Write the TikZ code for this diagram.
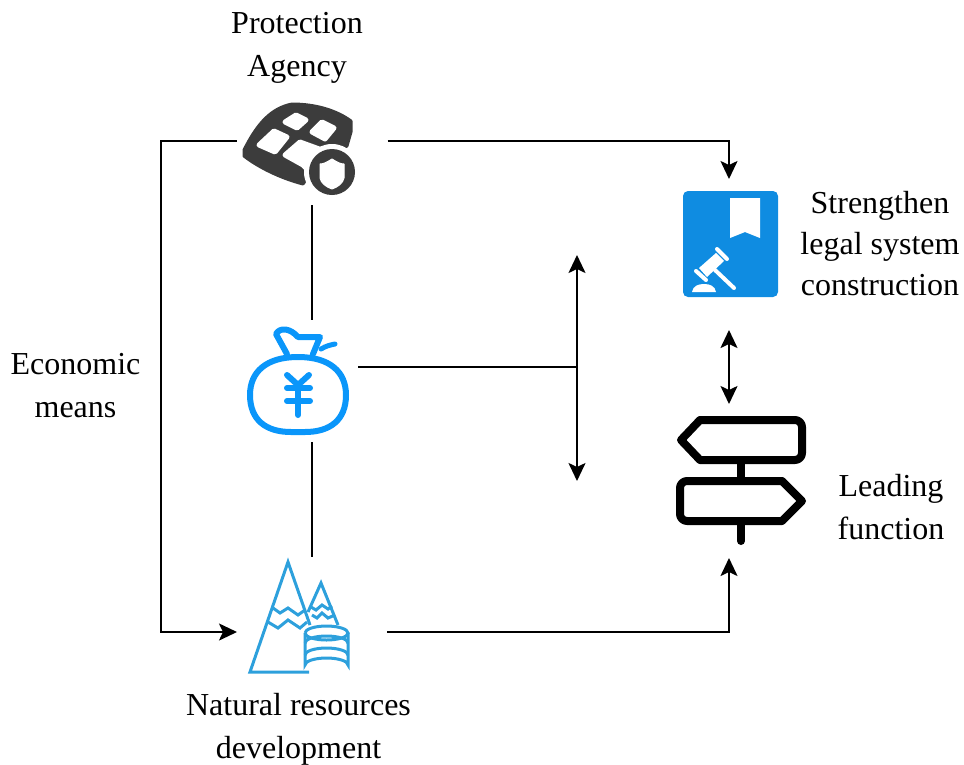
\documentclass[tikz,border=0pt]{standalone}
\usepackage{fontspec}
\setmainfont{Liberation Serif}
\usetikzlibrary{arrows.meta}
\definecolor{icondark}{RGB}{60,60,60}
\definecolor{bagblue}{RGB}{10,150,250}
\definecolor{mtblue}{RGB}{45,160,220}
\definecolor{lawblue}{RGB}{15,140,225}
\tikzset{
  conn/.style={line width=2pt,-{Stealth[length=18pt,width=17pt,inset=4pt]}},
  link/.style={line width=2pt},
  both/.style={line width=2pt,{Stealth[length=18pt,width=17pt,inset=4pt]}-{Stealth[length=18pt,width=17pt,inset=4pt]}},
  port/.style={inner sep=0pt,outer sep=0pt,draw=none},
  lbl/.style={align=center,inner sep=0pt,font=\fontsize{32}{43}\selectfont},
  bag/.style={draw=bagblue,line width=6pt,line cap=round,line join=round},
  mt/.style={draw=mtblue,line width=3pt,line join=miter},
  sign/.style={draw=black,line width=8pt,line join=round,line cap=round},
}
\begin{document}
\begin{tikzpicture}[x=1pt,y=-1pt]
\useasboundingbox (0,0) rectangle (964,764);

% --- protection agency icon
\fill[icondark,draw=icondark,line width=3pt,line join=round]
  (244,150) .. controls (258,122) and (272,108) .. (292,104) .. controls (315,104) and (336,110) .. (351,121)
  -- (351,132) -- (347,146) -- (320,160) -- (303,184) .. controls (280,178) and (258,167) .. (244,156) -- cycle;
\fill[white,draw=white,line width=5pt,line join=round] (296,115) -- (306,120) -- (297,128) -- (285,122) -- cycle;
\fill[white,draw=white,line width=5pt,line join=round] (322,122) -- (334,128) -- (325,139) -- (312,132) -- cycle;
\fill[white,draw=white,line width=5pt,line join=round] (274,131) -- (287,137) -- (275,152) -- (259,145) -- cycle;
\fill[white,draw=white,line width=5pt,line join=round] (300,142) -- (322,150) -- (306,168) -- (303,165) -- (285,155) -- cycle;
\fill[white] (332,172) circle (28);
\fill[icondark] (332,172) circle (23);
\fill[white,line join=round,draw=white,line width=1pt]
  (332,159) .. controls (337,162) and (340,164) .. (344,164) -- (344,178) .. controls (343,183) and (338,187) .. (332,189)
  .. controls (326,187) and (321,183) .. (320,178) -- (320,164) .. controls (324,164) and (327,162) .. (332,159) -- cycle;

% --- money bag icon
\draw[bag] (298,357) .. controls (330,357) and (346,372) .. (346,395) .. controls (346,420) and (330,432) .. (305,432)
  -- (291,432) .. controls (266,432) and (250,420) .. (250,395) .. controls (250,372) and (266,357) .. (298,357) -- cycle;
\draw[bag] (287,354) -- (276,334) .. controls (280,327) and (290,328) .. (298,337) -- (320,337) -- (313,354);
\draw[bag,line width=5pt] (321,349) .. controls (326,346) and (330,345) .. (335,344);
\draw[bag] (287,375) -- (298,385) -- (309,375);
\draw[bag] (298,385) -- (298,415);
\draw[bag] (287,388) -- (310,388);
\draw[bag] (287,401) -- (310,401);

% --- mountains icon
\draw[mt] (309,672) -- (250,672) -- (288,562) -- (310,625);
\draw[mt] (308,612) -- (321,583) -- (338,625);
\draw[mt] (273,608) -- (280,613) -- (288,608) -- (298,615) -- (305,610);
\draw[mt] (268,622) -- (278,628) -- (288,620) -- (300,628) -- (307,622);
\draw[mt] (311,607) -- (316,610) -- (322,605) -- (328,609) -- (332,606);
\draw[mt] (312,615) -- (317,618) -- (322,613) -- (328,618) -- (335,615);
\fill[white] (305,633) -- (305,665) arc[start angle=180,end angle=360,x radius=21.5,y radius=7] -- (348,633)
  arc[start angle=0,end angle=180,x radius=21.5,y radius=7] -- cycle;
\draw[mt] (305,633) arc[start angle=180,end angle=-180,x radius=21.5,y radius=7];
\draw[mt] (305,633) -- (305,665) arc[start angle=180,end angle=360,x radius=21.5,y radius=7] -- (348,633);
\draw[mt] (305,643) arc[start angle=180,end angle=360,x radius=21.5,y radius=7];
\draw[mt] (305,655) arc[start angle=180,end angle=360,x radius=21.5,y radius=7];

% --- law icon
\fill[lawblue,rounded corners=5pt] (683,191) rectangle (778,297);
\fill[white] (730,198) -- (760,198) -- (760,238) -- (745,232) -- (730,238) -- cycle;
\draw[white,line width=4pt,line cap=round] (717,249) -- (727,259);
\draw[white,line width=4pt,line cap=round] (696,271) -- (706,280);
\fill[white] (699,268) -- (716,253) -- (724,261) -- (707,277) -- cycle;
\draw[white,line width=4pt,line cap=round] (715,270) -- (734,288);
\fill[white] (692,292) .. controls (693,286) and (698,284) .. (704,284) .. controls (710,284) and (715,286) .. (716,292) -- cycle;

% --- signpost icon
\draw[sign] (741,464) -- (741,477);
\draw[sign] (741,525) -- (741,541);
\draw[sign,rounded corners=7pt] (700,420) -- (802,420) -- (802,460) -- (700,460);
\draw[sign] (700,420) -- (681,440) -- (700,460);
\draw[sign,rounded corners=7pt] (782,481) -- (680,481) -- (680,521) -- (782,521);
\draw[sign] (782,481) -- (802,501) -- (782,521);

% --- invisible icon frames that the connectors attach to
\node[port,minimum width=151pt,minimum height=128pt] (prot) at (312,141) {};
\node[port,minimum width=92pt,minimum height=122pt] (money) at (312,381) {};
\node[port,minimum width=150pt,minimum height=150pt] (nat) at (312,632) {};
\node[port,minimum width=96pt,minimum height=150pt] (law) at (729,254) {};
\node[port,minimum width=130pt,minimum height=154pt] (signp) at (729,481) {};
\coordinate (lawup) at (729,330);
\coordinate (signup) at (729,404);
\coordinate (j) at (578,367);
\coordinate (vtop) at (577,255);
\coordinate (vbot) at (577,481);
\coordinate (left) at (161,141);

% --- connectors
\draw[conn] (prot.west) -- (left) -- (left |- nat.west) -- (nat.west);
\draw[conn] (prot.east) -| (law.north);
\draw[conn] (nat.east) -| (signp.south);
\draw[link] (prot.south) -- (money.north);
\draw[link] (money.south) -- (nat.north);
\draw[link] (money.east |- j) -- (j);
\draw[both] (vtop) -- (vbot);
\draw[both] (lawup) -- (signup);

% --- labels
\node[lbl] (t1) at (297,47.5) {Protection\\Agency};
\node[lbl] (t2) at (75.5,386) {Economic\\means};
\node[lbl,font=\fontsize{32}{41}\selectfont] (t3) at (880,243.5) {Strengthen\\legal system\\construction};
\node[lbl] (t4) at (891,507) {Leading\\function};
\node[lbl] (t5) at (298.5,729) {Natural resources\\development};
\end{tikzpicture}
\end{document}
